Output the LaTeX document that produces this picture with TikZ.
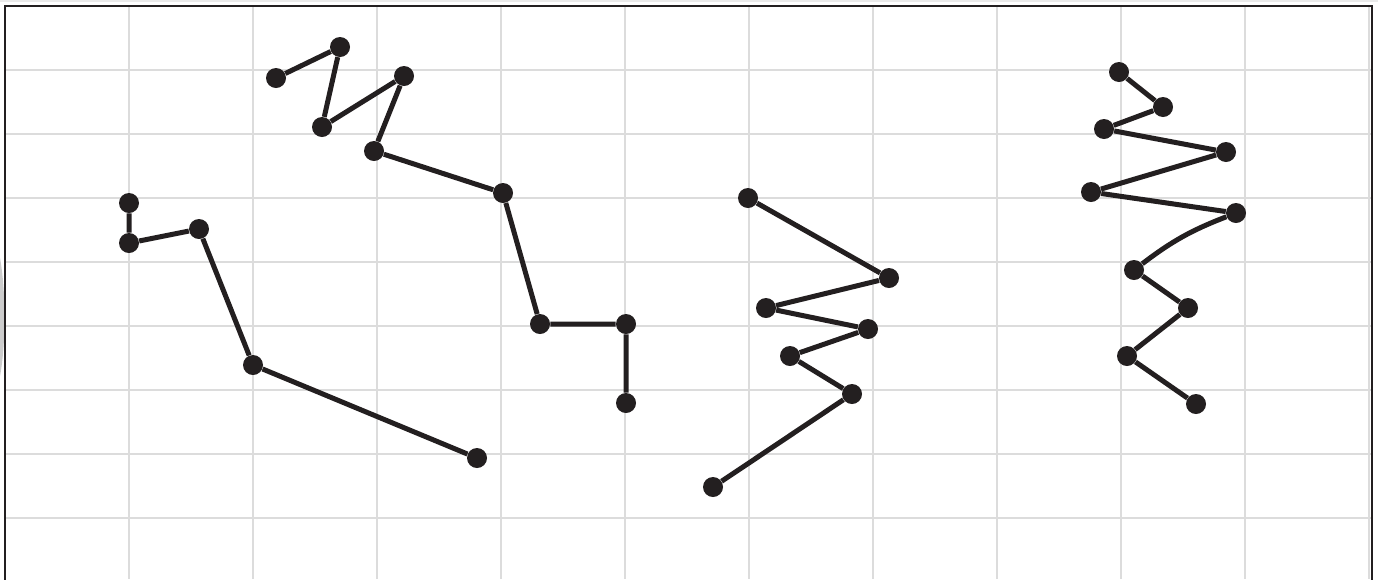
\documentclass[tikz,border=0pt]{standalone}
\usetikzlibrary{calc}
\definecolor{ink}{HTML}{231F20}
\definecolor{gridc}{HTML}{DCDCDC}
\tikzset{
  dot/.style={circle,fill=ink,draw=none,minimum size=20*0.02cm,inner sep=0pt},
  seg/.style={draw=ink,line width=5*0.02cm,line join=round},
  gridline/.style={draw=gridc,line width=1.6*0.02cm},
  framestyle/.style={draw=ink,line width=2.2*0.02cm}
}
\begin{document}
\begin{tikzpicture}[x=0.02cm,y=-0.02cm]
\useasboundingbox (0,0) rectangle (1378,579);
% faint top line and left wedge
\draw[draw=gridc!60,line width=1.5*0.02cm] (0,1) -- (1378,1);
\fill[gray!40] (0,258) .. controls (6,290) and (6,345) .. (0,376) -- cycle;
% grid
\foreach \i in {1,...,11} {\draw[gridline] ({5+124*\i},6) -- ({5+124*\i},579);}
\foreach \j in {1,...,8} {\draw[gridline] (5,{6+64*\j}) -- (1372,{6+64*\j});}
% frame
\draw[framestyle] (5,6) rectangle (1372,600);
% shape A
\node[dot] (a1) at (129,203) {};
\node[dot] (a2) at (129,243) {};
\node[dot] (a3) at (199,229) {};
\node[dot] (a4) at (253,365) {};
\node[dot] (a5) at (477,458) {};
\draw[seg] (a1) -- (a2) -- (a3) -- (a4) -- (a5);
% shape B
\node[dot] (b1) at (276,78) {};
\node[dot] (b2) at (340,47) {};
\node[dot] (b3) at (322,127) {};
\node[dot] (b4) at (404,76) {};
\node[dot] (b5) at (374,151) {};
\node[dot] (b6) at (503,193) {};
\node[dot] (b7) at (540,324) {};
\node[dot] (b8) at (626,324) {};
\node[dot] (b9) at (626,403) {};
\draw[seg] (b1) -- (b2) -- (b3) -- (b4) -- (b5) -- (b6) -- (b7) -- (b8) -- (b9);
% shape C
\node[dot] (c1) at (748,198) {};
\node[dot] (c2) at (889,278) {};
\node[dot] (c3) at (766,308) {};
\node[dot] (c4) at (868,329) {};
\node[dot] (c5) at (790,356) {};
\node[dot] (c6) at (852,394) {};
\node[dot] (c7) at (713,487) {};
\draw[seg] (c1) -- (c2) -- (c3) -- (c4) -- (c5) -- (c6) -- (c7);
% shape D
\node[dot] (d1) at (1119,72) {};
\node[dot] (d2) at (1163,107) {};
\node[dot] (d3) at (1104,129) {};
\node[dot] (d4) at (1226,152) {};
\node[dot] (d5) at (1091,192) {};
\node[dot] (d6) at (1236,213) {};
\node[dot] (d7) at (1134,270) {};
\node[dot] (d8) at (1188,308) {};
\node[dot] (d9) at (1127,356) {};
\node[dot] (d10) at (1196,404) {};
\draw[seg] (d1) -- (d2) -- (d3) -- (d4) -- (d5) -- (d6);
\draw[seg] (d6) to[bend right=8] (d7);
\draw[seg] (d7) -- (d8) -- (d9) -- (d10);
\end{tikzpicture}
\end{document}
